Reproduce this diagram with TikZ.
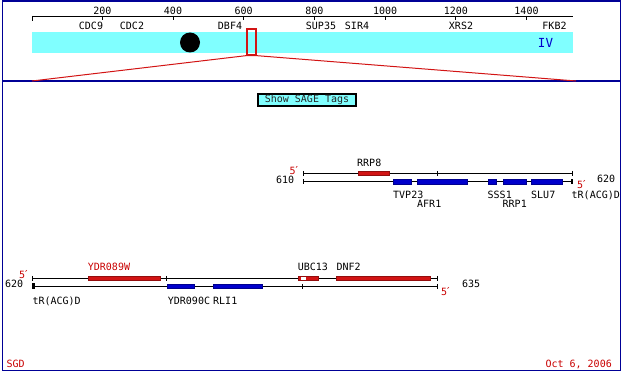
\documentclass[tikz,border=0pt]{standalone}
\usepackage{fontspec}
\setmonofont{DejaVu Sans Mono}
\newfontfamily\primefont{DejaVu Sans}
\newcommand{\fiveprime}{5{\primefont\fontsize{11}{12}\selectfont ′}}
\definecolor{sgdnavy}{RGB}{0,0,150}
\definecolor{sgdcyan}{RGB}{128,255,255}
\definecolor{sgdred}{RGB}{210,20,20}
\definecolor{sgdtext}{RGB}{200,0,0}
\definecolor{sgdblue}{RGB}{0,0,204}
\begin{document}
\begin{tikzpicture}[x=1pt, y=-1pt,
    lbl/.style={font=\ttfamily\fontsize{10}{12}\selectfont, inner sep=0pt, anchor=base west},
    lblc/.style={lbl, anchor=base},
    primelbl/.style={lbl, text=sgdtext},
    fwdgene/.style={fill=sgdred, draw=sgdred!70!black, line width=0.5pt},
    revgene/.style={fill=sgdblue, draw=sgdblue!70!black, line width=0.5pt},
    strand/.style={line width=0.9pt},
    trna/.style={fill=black}]
\useasboundingbox (0,0) rectangle (624,374);
% frame and separator
\draw[sgdnavy, line width=1.5pt] (2.7,1) rectangle (620.7,370.7);
\draw[sgdnavy, line width=2pt] (2.7,81.5) -- (620.7,81.5);

% chromosome ruler (kb)
\draw[line width=0.8pt] (32,16) -- (573,16);
\draw[line width=0.8pt] (32,16) -- (32,21);
\foreach \kb in {200,400,...,1400} {
    \draw[line width=0.8pt] ({31.6+0.3535*\kb},16) -- ++(0,4.5);
    \node[lblc] (kb\kb) at ({31.6+0.3535*\kb},14.8) {\kb};
}
\node[lblc] (cdc9) at (91,30) {CDC9};
\node[lblc] (cdc2) at (132,30) {CDC2};
\node[lblc] (dbf4) at (230,30) {DBF4};
\node[lblc] (sup35) at (321,30) {SUP35};
\node[lblc] (sir4) at (357,30) {SIR4};
\node[lblc] (xrs2) at (461,30) {XRS2};
\node[lblc] (fkb2) at (554.5,30) {FKB2};

% chromosome IV band with centromere
\fill[sgdcyan] (32,32) rectangle (573,52.7);
\fill (190,42.5) circle (10);
\node[font=\ttfamily\fontsize{12.5}{14}\selectfont, text=sgdblue, inner sep=0pt, anchor=base] (chrname) at (545.5,47.7) {IV};

% zoomed window
\node[draw=sgdred, line width=2pt, minimum width=9.6pt, minimum height=25.4pt, inner sep=0pt] (zoombox) at (251.5,42) {};
\coordinate (zoomleft) at (32,81);
\coordinate (zoomright) at (576,81);
\draw[sgdred, line width=1pt] (zoomleft) -- (zoombox.south west) -- (zoombox.south east) -- (zoomright);

% button
\node[draw=black, line width=2pt, fill=sgdcyan, minimum width=98pt, minimum height=11.4pt, inner sep=0pt,
      font=\ttfamily\fontsize{10}{12}\selectfont, text=black!85] (sage) at (307,100) {Show SAGE Tags};

% track 610 - 620
\draw[strand] (303,173.3) -- (572.3,173.3);
\draw[strand] (303,181.7) -- (572.3,181.7);
\foreach \tx in {303,437.7,572.3}
    \draw[strand] (\tx,170.8) -- (\tx,175.8);
\draw[strand] (303,179.2) -- (303,184.2);
\fill[fwdgene] (358.3,171) rectangle (389.3,175.7);
\foreach \gx/\gy in {393.3/411, 417.3/467.7, 488.3/496, 503.3/526.7, 531/562.3}
    \fill[revgene] (\gx,179.3) rectangle (\gy,184);
\fill[trna] (571,179) rectangle (573.3,184.5);
\node[primelbl] (pa1) at (289.5,174.6) {\fiveprime};
\node[lbl] (posa1) at (276,183.6) {610};
\node[lbl] (posa2) at (597,183) {620};
\node[primelbl] (pa2) at (577,188.5) {\fiveprime};
\node[lbl] (rrp8) at (357,166.7) {RRP8};
\node[lbl] (tvp23) at (393,198.3) {TVP23};
\node[lbl] (afr1) at (417,207.7) {AFR1};
\node[lbl] (sss1) at (487.5,198.3) {SSS1};
\node[lbl] (rrp1) at (502.5,207.7) {RRP1};
\node[lbl] (slu7) at (531,198.3) {SLU7};
\node[lbl] (trnaa) at (571.5,198.3) {tR(ACG)D};

% track 620 - 635
\draw[strand] (32.7,278.3) -- (437.3,278.3);
\draw[strand] (32.7,286.3) -- (437.3,286.3);
\foreach \tx in {32.7,166.7,437.3}
    \draw[strand] (\tx,275.8) -- (\tx,280.8);
\foreach \tx in {302.3,437.3}
    \draw[strand] (\tx,283.8) -- (\tx,288.8);
\fill[trna] (32.3,283.3) rectangle (34.6,289.3);
\fill[fwdgene] (88.3,276.3) rectangle (160,280.5);
\fill[fwdgene] (298.3,276.1) rectangle (318.7,280.5);
\fill[white] (300.7,276.9) rectangle (306,279.7);
\fill[fwdgene] (336.7,276.3) rectangle (430,280.5);
\fill[revgene] (167.3,284.1) rectangle (194,288.5);
\fill[revgene] (213.3,284.1) rectangle (262.7,288.5);
\node[primelbl] (pb1) at (19,279) {\fiveprime};
\node[lbl] (posb1) at (5,287.5) {620};
\node[lbl] (posb2) at (462,287.3) {635};
\node[primelbl] (pb2) at (441,295) {\fiveprime};
\node[lbl, text=sgdtext] (ydr089w) at (87.7,270.7) {YDR089W};
\node[lbl] (ubc13) at (297.7,270.7) {UBC13};
\node[lbl] (dnf2) at (336.3,270.7) {DNF2};
\node[lbl] (trnab) at (32.3,304) {tR(ACG)D};
\node[lbl] (ydr090c) at (167.7,304) {YDR090C};
\node[lbl] (rli1) at (213,304) {RLI1};

% footer
\node[lbl, text=sgdtext] (sgd) at (6.5,367.3) {SGD};
\node[lbl, text=sgdtext, anchor=base east] (date) at (612,367.3) {Oct 6, 2006};
\end{tikzpicture}
\end{document}
